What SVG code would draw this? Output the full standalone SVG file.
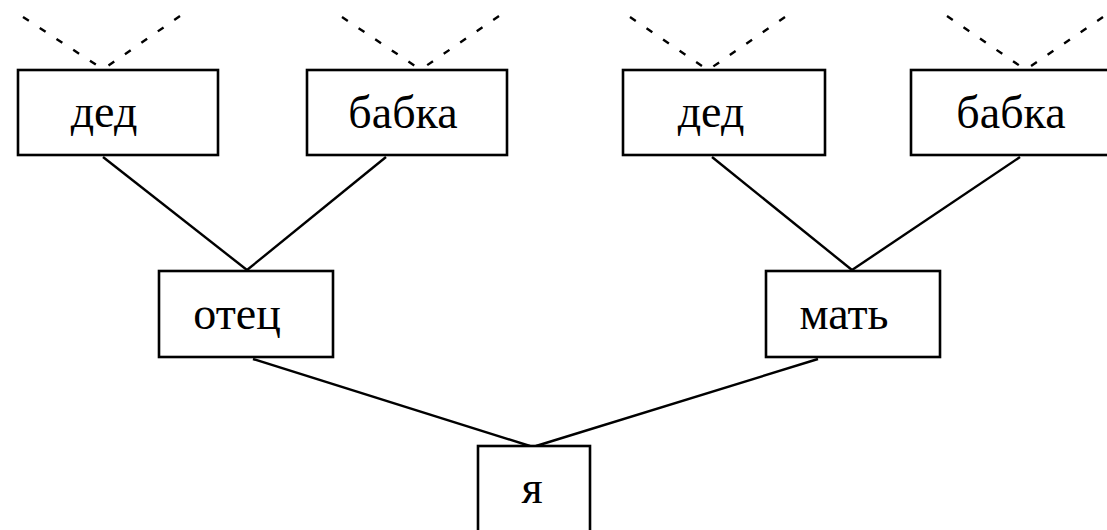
<svg xmlns="http://www.w3.org/2000/svg" width="1107" height="530" viewBox="0 0 1107 530">
<style>
.box{fill:#fff;stroke:#000;stroke-width:2.6}
.lbl{font-family:"Liberation Serif","Times New Roman",serif;font-size:46px;fill:#000;text-anchor:middle}
.ln{stroke:#000;stroke-width:2.4;fill:none}
.dash{stroke:#000;stroke-width:2.4;fill:none;stroke-dasharray:7 13}
</style>
<rect width="1107" height="530" fill="#fff"/>
<g id="connectors">
<line class="dash" x1="23" y1="17" x2="101" y2="68"/>
<line class="dash" x1="180" y1="16" x2="105" y2="68"/>
<line class="dash" x1="342" y1="17" x2="418" y2="68"/>
<line class="dash" x1="499" y1="16" x2="423" y2="68"/>
<line class="dash" x1="630" y1="17" x2="705" y2="68"/>
<line class="dash" x1="785" y1="17" x2="711" y2="68"/>
<line class="dash" x1="947" y1="16" x2="1023" y2="68"/>
<line class="dash" x1="1103" y1="17" x2="1028" y2="68"/>
<line class="ln" x1="103" y1="157" x2="247" y2="270"/>
<line class="ln" x1="386" y1="157" x2="247" y2="270"/>
<line class="ln" x1="712" y1="157" x2="852" y2="270"/>
<line class="ln" x1="1020" y1="157" x2="852" y2="270"/>
<line class="ln" x1="253" y1="359" x2="530" y2="446"/>
<line class="ln" x1="818" y1="359" x2="536" y2="446"/>
</g>
<g id="ded1"><rect class="box" x="18" y="70" width="200" height="85"/><text class="lbl" x="104" y="127">дед</text></g>
<g id="babka1"><rect class="box" x="307" y="70" width="200" height="85"/><text class="lbl" x="403" y="128">бабка</text></g>
<g id="ded2"><rect class="box" x="623" y="70" width="202" height="85"/><text class="lbl" x="711" y="127">дед</text></g>
<g id="babka2"><rect class="box" x="911" y="70" width="200" height="85"/><text class="lbl" x="1011" y="128">бабка</text></g>
<g id="otec"><rect class="box" x="159" y="271" width="174" height="86"/><text class="lbl" x="237" y="329">отец</text></g>
<g id="mat"><rect class="box" x="766" y="271" width="174" height="86"/><text class="lbl" x="844" y="329">мать</text></g>
<g id="ya"><rect class="box" x="478" y="446" width="112" height="100"/><text class="lbl" x="532" y="503">я</text></g>
</svg>
